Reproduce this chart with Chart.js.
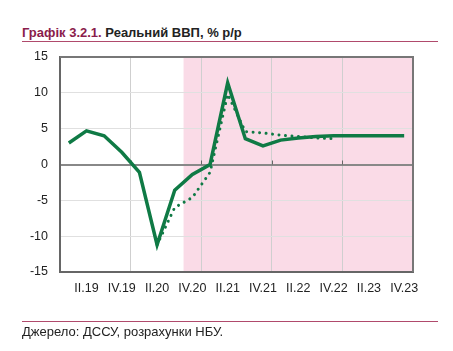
<!DOCTYPE html>
<html>
<head>
<meta charset="utf-8">
<script src="https://cdn.jsdelivr.net/npm/chart.js@4"></script>
<style>
  body { margin: 0; background: #fff; font-family: "Liberation Sans", Arial, sans-serif; }
  #wrap { position: relative; width: 453px; height: 351px; }
  #chart { position: absolute; left: 0; top: 0; }
  .title { position: absolute; left: 22px; top: 25px; font-size: 13px; font-weight: bold; color: #222; white-space: nowrap; }
  .title span { color: #8a1c4b; }
  .rule { position: absolute; left: 22px; width: 416px; height: 1px; background: #b04a6c; }
  .source { position: absolute; left: 22px; top: 324px; font-size: 13px; color: #222; white-space: nowrap; }
</style>
</head>
<body>
<div id="wrap">
  <div class="title"><span>Графік 3.2.1.</span> Реальний ВВП, % р/р</div>
  <div class="rule" style="top:41px"></div>
  <canvas id="chart" width="453" height="351"></canvas>
  <div class="rule" style="top:321px"></div>
  <div class="source">Джерело: ДССУ, розрахунки НБУ.</div>
</div>
<script>
// quarters I.19 .. IV.23
const quarters = [
  "I.19", "II.19", "III.19", "IV.19",
  "I.20", "II.20", "III.20", "IV.20",
  "I.21", "II.21", "III.21", "IV.21",
  "I.22", "II.22", "III.22", "IV.22",
  "I.23", "II.23", "III.23", "IV.23"
];
// current data + forecast
const gdpCurrent = [3.0, 4.7, 4.0, 1.7, -1.1, -11.2, -3.6, -1.4, 0.0, 11.4,
  3.6, 2.6, 3.4, 3.7, 3.9, 4.0, 4.0, 4.0, 4.0, 4.0];
// previous forecast (dotted)
const gdpPrevious = [null, null, null, null, null, -11.2, -6.0, -4.6, -1.1, 9.8,
  4.6, 4.4, 4.1, 3.9, 3.7, 3.6, null, null, null, null];
const forecastStart = "IV.20";
const yTicks = { min: -15, max: 15, step: 5 };

const green = "#0f7a45";
const font = { family: "'Liberation Sans', Arial, sans-serif", size: 12.5 };

// pink forecast band + top/right frame + little ticks on the zero line
const bandPlugin = {
  id: "band",
  beforeDraw(chart) {
    const { ctx, chartArea, scales } = chart;
    const x = scales.x;
    const half = (x.getPixelForValue(1) - x.getPixelForValue(0)) / 2;
    const left = x.getPixelForValue(quarters.indexOf(forecastStart)) - half;
    ctx.save();
    ctx.fillStyle = "#fadbe7";
    ctx.fillRect(left, chartArea.top, chartArea.right - left, chartArea.bottom - chartArea.top);
    ctx.restore();
  },
  beforeDatasetsDraw(chart) {
    const { ctx, chartArea, scales } = chart;
    const x = scales.x;
    const half = (x.getPixelForValue(1) - x.getPixelForValue(0)) / 2;
    const zero = scales.y.getPixelForValue(0);
    ctx.save();
    ctx.strokeStyle = "#777";
    ctx.lineWidth = 2;
    ctx.beginPath();
    ctx.moveTo(chartArea.left, chartArea.top);
    ctx.lineTo(chartArea.right, chartArea.top);
    ctx.lineTo(chartArea.right, chartArea.bottom);
    ctx.stroke();
    ctx.lineWidth = 1;
    ctx.strokeStyle = "#666";
    for (let i = 4; i < quarters.length; i += 4) {
      const px = Math.round(x.getPixelForValue(i) - half) + 0.5;
      ctx.beginPath();
      ctx.moveTo(px, zero - 4);
      ctx.lineTo(px, zero);
      ctx.stroke();
    }
    ctx.restore();
  }
};

new Chart(document.getElementById("chart"), {
  type: "line",
  data: {
    labels: quarters,
    datasets: [
      {
        data: gdpCurrent,
        borderColor: green,
        borderWidth: 3.5,
        pointRadius: 0,
        tension: 0,
        borderJoinStyle: "miter"
      },
      {
        data: gdpPrevious,
        borderColor: green,
        borderWidth: 3,
        borderDash: [0.01, 6.5],
        borderCapStyle: "round",
        pointRadius: 0,
        tension: 0,
        spanGaps: false
      }
    ]
  },
  options: {
    responsive: false,
    animation: false,
    devicePixelRatio: 1,
    layout: { padding: { left: 0, top: 57, right: 40, bottom: 49 } },
    plugins: { legend: { display: false }, tooltip: { enabled: false } },
    scales: {
      x: {
        offset: true,
        afterFit(s) { s.height = 30; },
        grid: {
          offset: true,
          drawTicks: false,
          color: ctx => (ctx.index % 4 === 0 ? "#cfcfcf" : "rgba(0,0,0,0)"),
          lineWidth: 1
        },
        border: { display: true, color: "#666", width: 2 },
        ticks: {
          autoSkip: false,
          maxRotation: 0,
          padding: 9,
          color: "#222",
          font: font,
          callback: (v, i) => (i % 2 === 1 ? quarters[i] : "")
        }
      },
      y: {
        min: yTicks.min,
        max: yTicks.max,
        afterFit(s) { s.width = 60; },
        grid: {
          drawTicks: false,
          color: ctx => (ctx.tick.value === 0 ? "#888" : "#e0e0e0"),
          lineWidth: ctx => (ctx.tick.value === 0 ? 2 : 1)
        },
        border: { display: true, color: "#666", width: 2 },
        ticks: { stepSize: yTicks.step, padding: 12, color: "#222", font: font }
      }
    }
  },
  plugins: [bandPlugin]
});
</script>
</body>
</html>
